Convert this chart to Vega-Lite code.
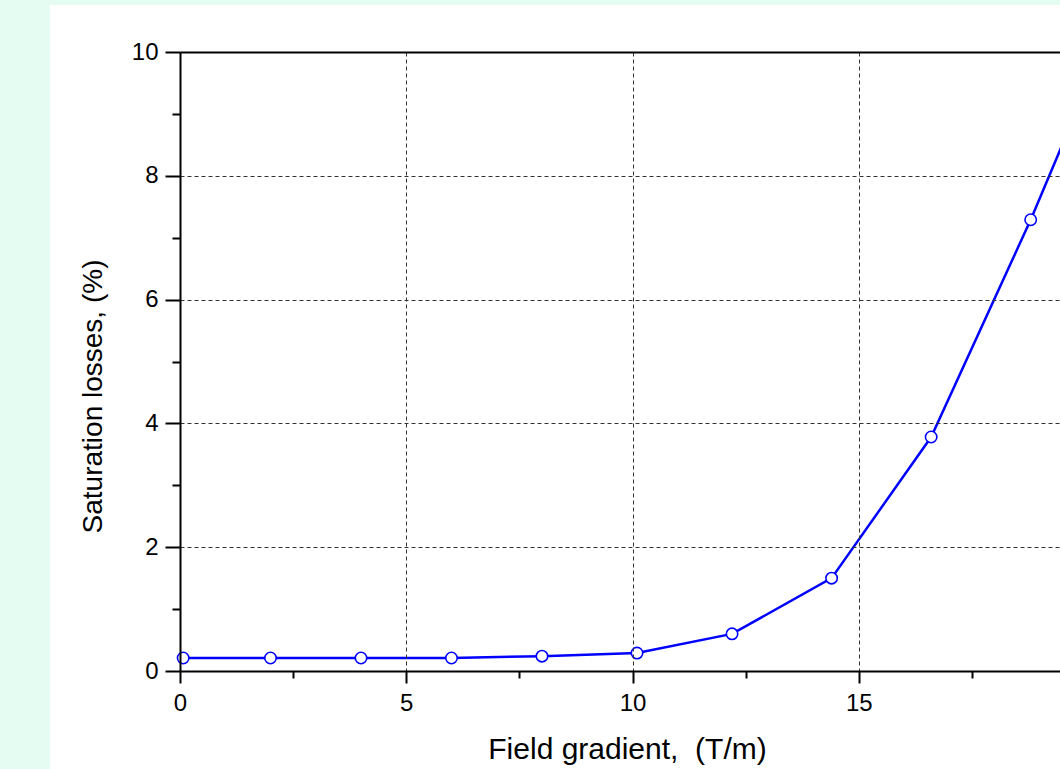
{
  "$schema": "https://vega.github.io/schema/vega-lite/v6.json",
  "autosize": {"type": "none"},
  "padding": {"left": 180, "top": 52, "right": 0, "bottom": 98},
  "width": 905,
  "height": 619,
  "background": "#e5fcf2",
  "config": {
    "view": {"stroke": null},
    "axis": {
      "labelFont": "Liberation Sans",
      "titleFont": "Liberation Sans",
      "labelFontSize": 24,
      "titleFontSize": 28,
      "titleFontWeight": "normal",
      "labelColor": "black",
      "titleColor": "black",
      "domainColor": "black",
      "domainWidth": 2,
      "tickColor": "black",
      "tickWidth": 2,
      "gridColor": "#333333",
      "gridWidth": 1,
      "gridDash": [4, 3],
      "labelOverlap": false,
      "labelFlush": false
    }
  },
  "data": {
    "values": [
      {"gradient": 0.07, "loss": 0.21},
      {"gradient": 2.0, "loss": 0.21},
      {"gradient": 4.0, "loss": 0.21},
      {"gradient": 6.0, "loss": 0.21},
      {"gradient": 8.0, "loss": 0.24},
      {"gradient": 10.1, "loss": 0.29},
      {"gradient": 12.2, "loss": 0.6},
      {"gradient": 14.4, "loss": 1.5},
      {"gradient": 16.6, "loss": 3.78},
      {"gradient": 18.8, "loss": 7.29},
      {"gradient": 21.0, "loss": 11.1}
    ]
  },
  "resolve": {"axis": {"x": "independent", "y": "independent"}},
  "layer": [
    {
      "mark": {"type": "rect", "fill": "white", "clip": false},
      "encoding": {
        "x": {"datum": -2.87, "type": "quantitative", "axis": null},
        "x2": {"datum": 22},
        "y": {"datum": 10.76, "type": "quantitative", "axis": null},
        "y2": {"datum": -1.8}
      }
    },
    {
      "mark": {"type": "line", "color": "#0000ff", "strokeWidth": 2.5, "clip": true},
      "encoding": {
        "x": {
          "field": "gradient",
          "type": "quantitative",
          "axis": {"orient": "top", "title": null, "labels": false, "ticks": false, "grid": false, "domain": true, "zindex": 1}
        },
        "y": {
          "field": "loss",
          "type": "quantitative",
          "axis": {"orient": "right", "title": null, "labels": false, "ticks": false, "grid": false, "domain": false}
        }
      }
    },
    {
      "mark": {"type": "point", "shape": "circle", "filled": true, "fill": "white", "stroke": "#0000ff", "strokeWidth": 1.6, "size": 130, "opacity": 1, "clip": false},
      "encoding": {
        "x": {
          "field": "gradient",
          "type": "quantitative",
          "scale": {"domain": [0, 20], "nice": false, "zero": false},
          "axis": {
            "orient": "bottom",
            "zindex": 1,
            "title": "Field gradient,\u00a0\u00a0(T/m)",
            "titleFontSize": 30,
            "values": [0, 2.5, 5, 7.5, 10, 12.5, 15, 17.5, 20],
            "labelExpr": "datum.value % 5 === 0 && datum.value < 20 ? datum.label : ''",
            "tickSize": {"condition": {"test": "datum.value % 5 === 0", "value": 12}, "value": 7},
            "gridOpacity": {"condition": {"test": "datum.value % 5 === 0 && datum.value > 0", "value": 1}, "value": 0},
            "grid": true,
            "labelPadding": 8,
            "titleX": 447,
            "titleY": 87,
            "titleAnchor": "middle",
            "titleBaseline": "alphabetic"
          }
        },
        "y": {
          "field": "loss",
          "type": "quantitative",
          "scale": {"domain": [0, 10], "nice": false},
          "axis": {
            "orient": "left",
            "zindex": 1,
            "title": "Saturation losses, (%)",
            "values": [0, 1, 2, 3, 4, 5, 6, 7, 8, 9, 10],
            "labelExpr": "datum.value % 2 === 0 ? datum.label : ''",
            "tickSize": {"condition": {"test": "datum.value % 2 === 0", "value": 15}, "value": 8},
            "gridOpacity": {"condition": {"test": "datum.value % 2 === 0 && datum.value > 0 && datum.value < 10", "value": 1}, "value": 0},
            "grid": true,
            "labelPadding": 7,
            "titleAngle": -90,
            "titleX": -87,
            "titleY": 344,
            "titleAlign": "center",
            "titleBaseline": "middle"
          }
        }
      }
    }
  ]
}
